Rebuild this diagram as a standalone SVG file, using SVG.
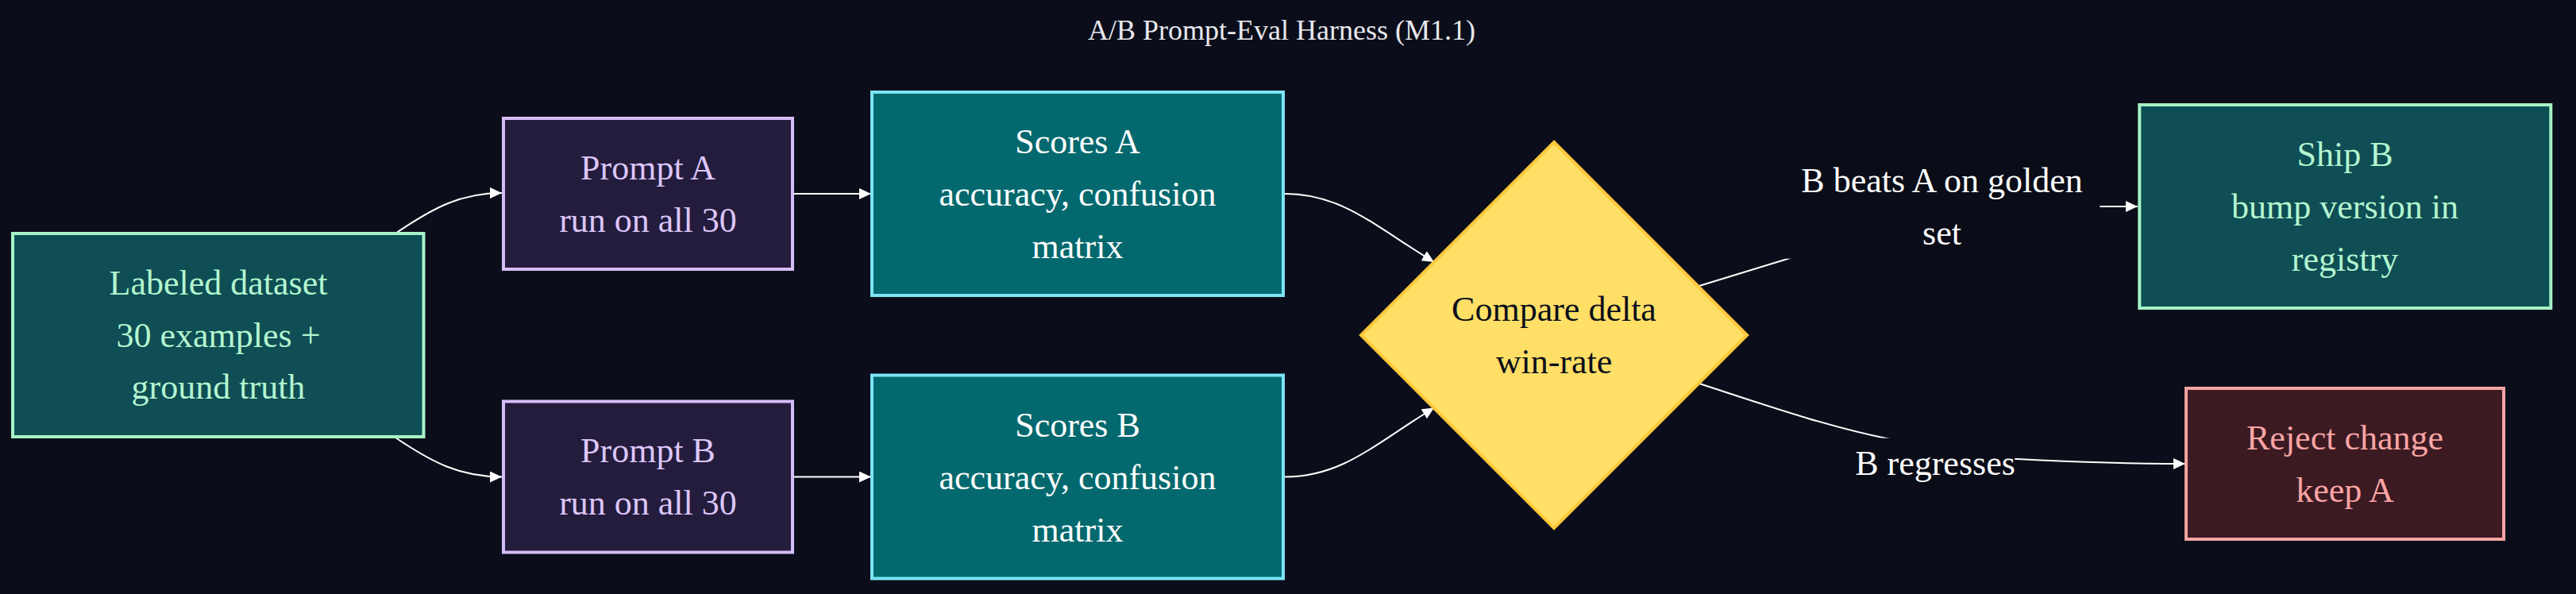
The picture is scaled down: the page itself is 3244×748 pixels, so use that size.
<svg xmlns="http://www.w3.org/2000/svg" width="3244" height="748" viewBox="0 0 3244 748">
<defs>
<marker id="arrow" markerUnits="userSpaceOnUse" markerWidth="16" markerHeight="16" refX="15" refY="7" orient="auto">
<path d="M0,0 L15,7 L0,14 z" fill="#ffffff"/>
</marker>
<style>
text{font-family:"Liberation Serif","Times New Roman",serif;font-size:44px;text-anchor:middle}
.edge{fill:none;stroke:#ffffff;stroke-width:2;marker-end:url(#arrow)}
.mint rect{fill:#0e4e54;stroke:#a7f3c6;stroke-width:4}
.mint text{fill:#b4f5d0}
.purple rect{fill:#241c3c;stroke:#d6bcfa;stroke-width:4}
.purple text{fill:#dcc6fa}
.teal rect{fill:#03696e;stroke:#7ce4f6;stroke-width:4}
.teal text{fill:#ffffff}
.red rect{fill:#3b1a22;stroke:#f4a3a3;stroke-width:4}
.red text{fill:#fca5a5}
.elabel rect{fill:#0a0d18}
.elabel text{fill:#ffffff}
</style>
</defs>
<rect x="0" y="0" width="3244" height="748" fill="#0b0e1a"/>
<text x="1614" y="50" style="font-size:36px" fill="#e8e8ee">A/B Prompt-Eval Harness (M1.1)</text>

<g id="connectors">
<path class="edge" d="M498,294 C545,262 580,243 632,243"/>
<path class="edge" d="M498,551 C545,583 580,600.5 632,600.5"/>
<path class="edge" d="M998,244 L1097,244"/>
<path class="edge" d="M998,600.5 L1097,600.5"/>
<path class="edge" d="M1618,244 C1690,244 1730,284 1806,330"/>
<path class="edge" d="M1618,600.5 C1690,600.5 1730,560 1806,513.5"/>
<path class="edge" d="M2140,360 L2251,326 C2330,300 2400,260 2480,260 L2692,260"/>
<path class="edge" d="M2140,483 C2220,509 2300,537 2380,553 C2450,570 2500,578 2540,578 C2600,581 2660,584 2752,584"/>
</g>

<g id="edge-label-ship" class="elabel">
<rect x="2246.7" y="195" width="397.6" height="130.7"/>
<text x="2445.5" y="241.7">B beats A on golden</text>
<text x="2445.5" y="307.7">set</text>
</g>
<g id="edge-label-reject" class="elabel">
<rect x="2336.7" y="551.7" width="200.6" height="63.3"/>
<text x="2437" y="598.3">B regresses</text>
</g>

<g id="dataset" class="mint">
<rect x="16" y="294" width="517.5" height="256"/>
<text x="275" y="370.7">Labeled dataset</text>
<text x="275" y="436.7">30 examples +</text>
<text x="275" y="502.3">ground truth</text>
</g>

<g id="promptA" class="purple">
<rect x="634" y="149" width="364" height="190"/>
<text x="816" y="226">Prompt A</text>
<text x="816" y="292">run on all 30</text>
</g>

<g id="promptB" class="purple">
<rect x="634" y="505.5" width="364" height="190"/>
<text x="816" y="582">Prompt B</text>
<text x="816" y="647.5">run on all 30</text>
</g>

<g id="scoresA" class="teal">
<rect x="1098" y="116" width="518" height="256"/>
<text x="1357" y="193">Scores A</text>
<text x="1357" y="259">accuracy, confusion</text>
<text x="1357" y="325">matrix</text>
</g>

<g id="scoresB" class="teal">
<rect x="1098" y="472.5" width="518" height="256"/>
<text x="1357" y="549.5">Scores B</text>
<text x="1357" y="615.5">accuracy, confusion</text>
<text x="1357" y="681.5">matrix</text>
</g>

<g id="compare">
<polygon points="1957,179 2200,422 1957,665 1714,422" fill="#ffdf66" stroke="#fcc93a" stroke-width="4"/>
<text x="1957" y="404" fill="#0b0e1a">Compare delta</text>
<text x="1957" y="470" fill="#0b0e1a">win-rate</text>
</g>

<g id="shipB" class="mint">
<rect x="2694.3" y="132" width="518" height="256"/>
<text x="2953" y="209">Ship B</text>
<text x="2953" y="275">bump version in</text>
<text x="2953" y="341">registry</text>
</g>

<g id="reject" class="red">
<rect x="2753" y="489" width="400" height="190"/>
<text x="2953" y="566">Reject change</text>
<text x="2953" y="632">keep A</text>
</g>
</svg>
